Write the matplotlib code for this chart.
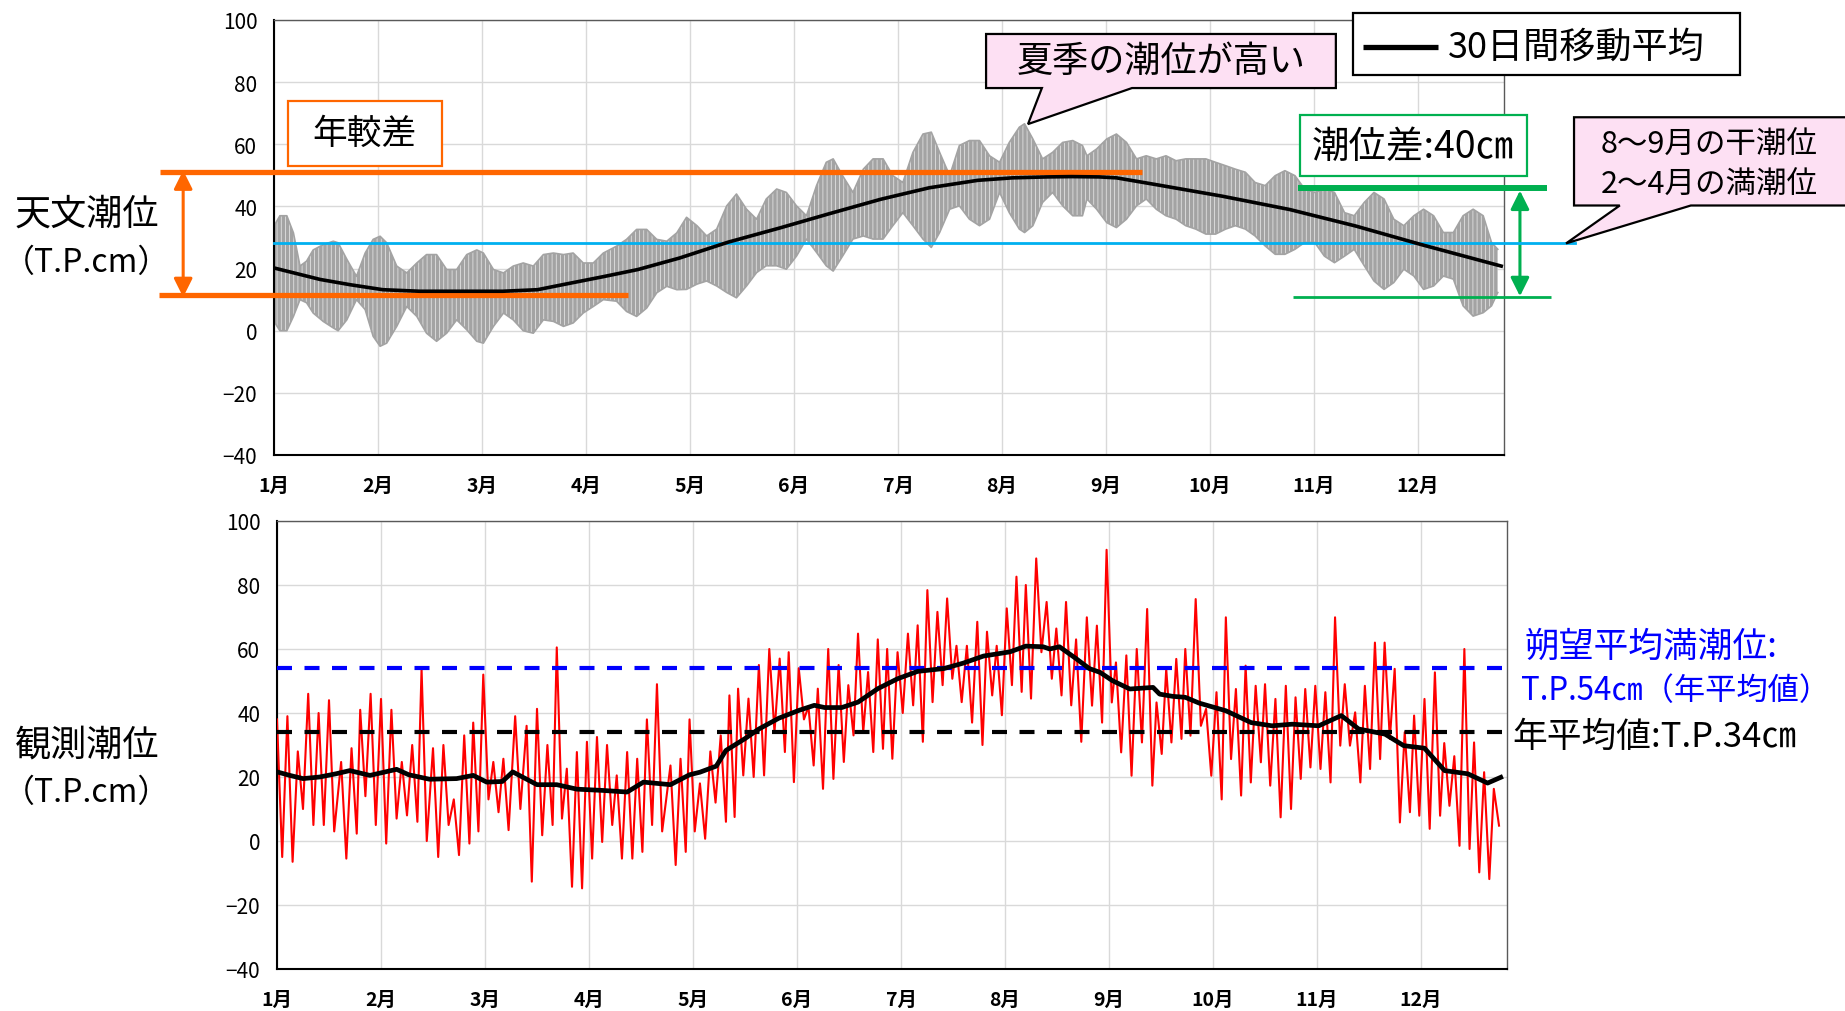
import numpy as np
import matplotlib
matplotlib.use("Agg")
import matplotlib.pyplot as plt
from matplotlib.patches import Rectangle, Polygon

plt.rcParams['font.family'] = ['Noto Sans CJK JP', 'DejaVu Sans']
plt.rcParams['hatch.linewidth'] = 0.5

# ---------------- data ----------------
month_labels = ['1月', '2月', '3月', '4月', '5月', '6月', '7月', '8月', '9月', '10月', '11月', '12月']
month_days = [0, 30, 60, 90, 120, 150, 180, 210, 240, 270, 300, 330]
y_ticks = [-40, -20, 0, 20, 40, 60, 80, 100]
x_end = 354.8

# astronomical tide: envelope (upper / lower) of the hourly curve
gray_day = [0, 1.7, 3.7, 5.6, 7.5, 9.4, 11.3, 14.2, 17.1, 18.5, 21, 23.8, 26.3, 28.6, 30.6, 32.5,
            35.4, 38.3, 41.2, 44, 46.9, 49.8, 52.7, 55.6, 58.5, 60.4, 63.3, 66.2, 69, 71.9, 74.8,
            77.7, 80.6, 83.5, 86.3, 89.2, 92.1, 95, 98.8, 101.7, 104.6, 107.5, 110.4, 113.3, 116.2,
            119, 122, 124.8, 127.7, 130.6, 133.4, 136.3, 139.2, 142, 145, 147.8, 150.7, 153.6,
            156.5, 159.3, 161.3, 164, 167, 170, 172.8, 175.7, 178.5, 181.4, 184.3, 187.2, 189.6,
            192, 194.9, 197.7, 200.6, 203.5, 206.4, 209.3, 212.1, 215, 216.5, 218.9, 221.7, 224.6,
            227.5, 230.4, 233.2, 234.5, 237.3, 240.2, 243, 245.9, 248.8, 251.6, 254.5, 257.3,
            260.2, 263, 265.9, 268.8, 271.6, 274.5, 277.3, 280.2, 283, 285.9, 288.8, 291.6, 294.5,
            297.3, 300.2, 303, 305.9, 308.8, 311.6, 314.5, 317.3, 320.2, 323, 325.9, 328.8, 331.6,
            334.5, 337.3, 340.2, 343, 345.9, 348.8, 351.2, 353]
gray_upper = [33.7, 37, 37, 31.5, 20.8, 22.4, 26, 27.7, 28.8, 28.3, 23, 17.5, 25, 29.4, 30.4, 28.3,
              20.8, 18.6, 21.8, 24.5, 24.5, 19.7, 19.7, 24.5, 26, 25, 19.7, 18.6, 20.8, 21.8, 20.8,
              24.5, 25, 24.5, 25, 21.8, 21.8, 25, 27.2, 29.4, 32.6, 32.6, 29.4, 28.8, 31.5,
              36.5, 33.8, 30.5, 32.7, 40.2, 44, 39.1, 35.9, 42.4, 45.6, 44.5, 40.2, 37,
              46.7, 54.2, 55.3, 49.9, 44.5, 52, 55.3, 55.3, 49.9, 47.7, 57.4, 63.3, 63.9,
              57.4, 49.9, 59.6, 61.2, 61.2, 56.3, 54.2, 60.6, 65.5, 66.6, 61.7, 55.3, 57.4,
              60.6, 61.2, 59.6, 56.3, 58.5, 61.7, 63.3, 60.6, 55.3, 56.3, 55.3, 56.3,
              54.7, 55.3, 55.3, 55.3, 54.2, 53.1, 52, 51, 47.7, 46.7, 49.9, 51.5, 49.9,
              45.6, 44.5, 45.6, 44.5, 38, 37, 41.3, 44.5, 42.4, 35.9, 33.8, 37, 39.1,
              37, 31.6, 31.6, 37, 39.1, 37, 28.4, 26.2]
gray_lower = [3, 0, 0, 4.6, 10, 9, 5.7, 3, 0.9, 0, 3.5, 10, 6.8, -1.8, -5, -4,
              1.4, 7.8, 4.6, -0.8, -3.4, -0.8, 3.5, 0.3, -3.4, -4, 1.4, 5.7, 3.5, 0, -0.8,
              3.5, 3, 1.4, 2.5, 5.7, 7.8, 10, 9.5, 6.2, 4.6, 7.3, 12.2, 14.3, 13.2,
              13.3, 15, 16, 14.4, 12.3, 10.6, 14.4, 18.7, 20.9, 20.9, 19.8, 24, 29.5,
              25.2, 20.9, 19.2, 24, 29.5, 30.5, 29.5, 29.5, 33.8, 38, 33.8, 29.5, 26.8,
              31.6, 39.1, 40.2, 35.9, 33.8, 35.9, 44.5, 38, 32.7, 31.6, 33.8, 41.3, 44.5,
              40.2, 37, 37, 42.4, 39.1, 34.8, 33.2, 35.9, 40.2, 42.4, 39.1, 37,
              35.9, 33.8, 32.7, 31.1, 31.1, 32.7, 33.8, 32.7, 30.5, 27.3, 24.6, 24.6, 26.2,
              28.4, 28.4, 24, 21.9, 24, 26.2, 20.9, 16, 13.3, 15.5, 19.8, 17.6, 13.3,
              14.4, 17.6, 16.6, 8, 4.7, 5.8, 8, 12.3]

# astronomical tide: 30-day moving average
astro_ma_day = [0, 13.3, 22, 31.4, 42, 66, 76, 85, 95, 105, 117, 131, 146, 160, 175, 189, 203,
                213, 223, 230, 238, 243, 254, 273.5, 293, 312, 331, 354]
astro_ma = [20.2, 16.5, 14.8, 13.2, 12.7, 12.7, 13.2, 15.2, 17.4, 19.7, 23.4, 28.5, 33.1, 37.6,
            42.3, 46.0, 48.4, 49.2, 49.5, 49.6, 49.5, 49.2, 47.1, 43.3, 39.0, 33.7, 27.7, 20.8]

# observed tide: highest / lowest value in each ~3-day bin
obs_day = [0, 3, 6, 9, 12, 15, 18.5, 21.5, 24, 27, 30, 33, 36, 39, 41.7, 45, 48, 51, 54, 56.6,
           59.5, 62.4, 65.3, 68.7, 72, 75, 78, 80.7, 83.6, 86.5, 89.4, 92.3, 95.2, 98, 101, 103.9,
           106.7, 109.6, 113.5, 116.4,
           119, 122, 125, 128, 130.5, 133, 136, 139, 142, 145, 147.6, 150.5, 153.3, 156, 159, 162,
           164.8, 167.6, 170.5, 173.3, 176, 179, 182, 184.8, 187.6, 190.5, 193.3, 196, 199, 202,
           204.8, 207.6, 210.5, 213.3, 216, 219, 222, 224.8, 227.6, 230.5,
           233.6, 236.5, 239.3, 242, 245, 248, 251, 253.7, 256.5, 259.4, 262, 265, 268, 271, 273.7,
           276.6, 279.4, 282.3, 285, 288, 291, 293.8, 296.6, 299.5, 302.4, 305.2, 308, 311, 313.8,
           316.7, 319.5, 322.4, 325.3, 328, 331, 334, 336.7, 339.6, 342.5, 345.3, 348.2, 351]
obs_high = [38, 39, 28, 46, 40, 44, 24.7, 29, 41, 46, 44.4, 41, 24.7, 30, 53.8, 29, 30, 13, 33, 37,
            52, 24.7, 25.7, 39, 36, 41.3, 30, 60.5, 22.6, 27.8, 31, 32.5, 30, 20.5, 27.8, 25.7,
            38, 49, 23.6, 25.7,
            38, 18, 28, 33, 45.5, 47.6, 44.5, 55, 60, 57, 59, 54, 42, 47.6, 60, 55,
            48.7, 64.8, 52.8, 63, 60, 59, 64.8, 67.4, 78.4, 71.6, 75.8, 61, 61, 68.5,
            65.4, 61, 72.7, 82.6, 80, 88.3, 74.7, 66.4, 74.7, 63,
            69.9, 67.3, 91, 55.8, 58, 60, 72.5, 43.3, 53.8, 56.9, 60, 75.6, 41.3, 46.5, 69.9,
            47.5, 54.8, 48.5, 49, 44.4, 48.5, 44.9, 47.5, 48.5, 46.5, 69.9, 49, 40.2, 48.5,
            62, 62, 53.8, 34, 39.2, 44.4, 52.7, 30.6, 26.5, 60, 30.8, 21.5, 16.3]
obs_low = [-5, -6.5, 10, 5, 5, 3, -5.5, 2.3, 14, 5, -0.8, 7, 8, 6, 0, -5, 5, -4.4, -0.8, 3,
           13, 9, 3.4, 10, -12.7, 1.8, 5, 7, -14.3, -14.8, -5.5, -0.3, 5, -5.5, -5.5, -3.4,
           5, 3, -7.5, -3.4,
           3, 0.7, 12, 6, 7.5, 20.5, 20, 20.5, 34, 27.8, 18.4, 38, 23.6, 16.3, 19.4, 24.7,
           33, 34, 27.8, 28.8, 25.7, 40, 42.4, 31, 43.4, 48.7, 50.7, 43.4, 37, 30,
           45.5, 39.3, 48.7, 46.6, 44.5, 59, 50.7, 45.5, 42.4, 31,
           42.3, 37, 43.3, 27.7, 20.4, 30.8, 17.3, 27.2, 30.8, 31.9, 32.9, 36, 20.4, 13, 25.6,
           14.2, 18.3, 24.6, 17.3, 7.4, 10, 19.4, 23, 22.5, 18.3, 29.8, 29.8, 18.3, 22.5,
           25.6, 31.9, 5.8, 9, 7.9, 3.8, 7.9, 11, -1.5, -2.5, -9.8, -11.9, 4.8]

# observed tide: 30-day moving average
obs_ma_day = [0, 3.7, 7.5, 12.3, 17, 21, 26.8, 34.5, 38, 44, 51.8, 56.6, 60.5, 65, 68, 75, 80.7,
              86.5, 94, 101, 105.7, 113.5, 119, 122, 126.7, 129.5, 135, 139, 144.8, 150.5, 155,
              158, 162.9, 167.6, 173.3, 179, 184.8, 192.4, 198, 203.8, 211.4, 216, 221, 222.9,
              225.7, 230.5, 234.3, 237.4, 241, 246, 252.7, 254.6, 258.4, 262, 266, 273.7, 281,
              287, 292.8, 300.5, 307, 312, 319.6, 325, 331, 336.8, 343.5, 349.2, 353]
obs_ma = [21.6, 20.5, 19.5, 20, 21, 22, 20.5, 22.4, 20.7, 19.3, 19.5, 20.5, 18.4, 18.6, 21.6, 17.6,
          17.6, 16.2, 15.8, 15.3, 18.4, 17.6, 20.7, 21.5, 23.4, 28.3, 32, 35, 38.4, 40.8, 42.4,
          41.7, 41.7, 43.4, 47.6, 50.7, 53, 53.9, 55.6, 57.8, 59.1, 60.9, 60.7, 60, 60.7, 57,
          53.9, 52.7, 50.1, 47.5, 48, 45.9, 45.2, 44.9, 43.1, 40.7, 37, 36, 36.5, 36, 39.2, 35,
          33.4, 29.8, 29, 22, 21, 18.1, 19.9]

# reference levels (T.P. cm)
annual_high = 51.0      # summer level of astronomical tide
annual_low = 11.4       # winter level
ref_level = 28.3        # Aug-Sep low water / Feb-Apr high water
range_top = 45.9
range_bottom = 10.9
hwl_mean = 54           # 朔望平均満潮位
annual_mean = 34        # 年平均値

# ---------------- figure ----------------
fig = plt.figure(figsize=(18.45, 10.12), dpi=100)
ax1 = fig.add_axes([274 / 1845, 1 - 456 / 1012, 1230 / 1845, 435 / 1012])
ax2 = fig.add_axes([277 / 1845, 1 - 970 / 1012, 1230 / 1845, 448 / 1012])

grid_c = '#D9D9D9'
for ax in (ax1, ax2):
    ax.set_xlim(0, x_end)
    ax.set_ylim(-40, 100)
    ax.set_xticks(month_days)
    ax.set_xticklabels(month_labels, fontsize=14, fontweight='bold')
    ax.set_yticks(y_ticks)
    ax.set_yticklabels([str(v) if v >= 0 else '−' + str(-v) for v in y_ticks], fontsize=15)
    ax.tick_params(axis='both', length=0)
    ax.tick_params(axis='y', pad=12)
    ax.tick_params(axis='x', pad=15)
    ax.grid(True, color=grid_c, lw=1.0)
    ax.set_axisbelow(True)
    for s in ('top', 'right'):
        ax.spines[s].set_color('#595959')
        ax.spines[s].set_linewidth(1.0)
    for s in ('left', 'bottom'):
        ax.spines[s].set_color('black')
        ax.spines[s].set_linewidth(1.5)

# ---- top panel ----
gd = np.array(gray_day)
gray = '#A3A3A3'
ax1.fill(np.r_[gd, gd[::-1]], np.r_[gray_upper, gray_lower[::-1]],
         facecolor=gray, edgecolor='#EDEDED', lw=0, hatch='||||', zorder=2)
ax1.plot(gd, gray_upper, color=gray, lw=1.2, zorder=2)
ax1.plot(gd, gray_lower, color=gray, lw=1.2, zorder=2)
ax1.plot(astro_ma_day, astro_ma, color='black', lw=2.6, zorder=6)

orange = '#FF6600'
ax1.plot([-32.9, 250.4], [annual_high, annual_high], color=orange, lw=3.8, clip_on=False, zorder=5,
         solid_capstyle='butt')
ax1.plot([-33.2, 102.1], [annual_low, annual_low], color=orange, lw=3.8, clip_on=False, zorder=5,
         solid_capstyle='butt')
ax1.annotate('', xy=(-26.2, annual_high + 0.6), xytext=(-26.2, annual_low - 0.6),
             xycoords='data', annotation_clip=False,
             arrowprops=dict(arrowstyle='<|-|>', color=orange, lw=2.2, mutation_scale=28,
                             shrinkA=0, shrinkB=0))
ax1.add_patch(Rectangle((4.0, 52.9), 44.5, 21.0, facecolor='white', edgecolor=orange, lw=1.6,
                        clip_on=False, zorder=7))
ax1.text(26.2, 63.5, '年較差', fontsize=25, ha='center', va='center', zorder=8)

cyan = '#00B0F0'
ax1.plot([0, 375.3], [ref_level, ref_level], color=cyan, lw=2.0, clip_on=False, zorder=4)

# callout: summer high
pink = '#FDE0F3'
ax1.add_patch(Polygon([(205.4, 95.5), (306.3, 95.5), (306.3, 78.1), (247.5, 78.1),
                       (217.5, 66.5), (221.5, 78.1), (205.4, 78.1)],
                      closed=True, facecolor=pink, edgecolor='black', lw=1.6,
                      clip_on=False, zorder=9))
ax1.text(255.8, 86.9, '夏季の潮位が高い', fontsize=26, ha='center', va='center', zorder=10)

# legend box
ax1.add_patch(Rectangle((311.2, 82.3), 111.6, 20.0, facecolor='white', edgecolor='black', lw=1.6,
                        clip_on=False, zorder=9))
ax1.plot([314.1, 335.7], [91.4, 91.4], color='black', lw=3.8, clip_on=False, zorder=10,
         solid_capstyle='butt')
ax1.text(338.6, 91.4, '30日間移動平均', fontsize=26, ha='left', va='center', zorder=10)

# tidal range (green)
green = '#00B050'
ax1.add_patch(Rectangle((295.9, 49.7), 65.5, 19.7, facecolor='white', edgecolor=green, lw=1.6,
                        clip_on=False, zorder=9))
ax1.text(328.6, 59.4, '潮位差:40㎝', fontsize=27, ha='center', va='center', zorder=10)
ax1.plot([295.4, 367.2], [range_top, range_top], color=green, lw=4.3, clip_on=False, zorder=5,
         solid_capstyle='butt')
ax1.plot([293.9, 368.3], [range_bottom, range_bottom], color=green, lw=2.0, clip_on=False, zorder=5,
         solid_capstyle='butt')
ax1.annotate('', xy=(359.4, range_top - 0.8), xytext=(359.4, range_bottom + 0.2),
             xycoords='data', annotation_clip=False,
             arrowprops=dict(arrowstyle='<|-|>', color=green, lw=2.2, mutation_scale=28,
                             shrinkA=0, shrinkB=0))

# callout: Aug-Sep low / Feb-Apr high
ax1.add_patch(Polygon([(375.0, 68.7), (454.5, 68.7), (454.5, 40.3), (408.7, 40.3),
                       (372.7, 28.1), (388.2, 40.3), (375.0, 40.3)],
                      closed=True, facecolor=pink, edgecolor='black', lw=1.6,
                      clip_on=False, zorder=9))
ax1.text(414.0, 60.0, '8〜9月の干潮位', fontsize=22, ha='center', va='center', zorder=10)
ax1.text(414.0, 47.2, '2〜4月の満潮位', fontsize=22, ha='center', va='center', zorder=10)

fig.text(87 / 1845, 1 - 215 / 1012, '天文潮位', fontsize=26, ha='center', va='center')
fig.text(87 / 1845, 1 - 263 / 1012, '（T.P.cm）', fontsize=23, ha='center', va='center')

# ---- bottom panel ----
od = np.array(obs_day)
zz_x = np.ravel(np.column_stack([od, od + 1.5]))
zz_y = np.ravel(np.column_stack([obs_high, obs_low]))
ax2.plot(zz_x, zz_y, color='#FF0000', lw=1.5, zorder=3)
ax2.plot([0, x_end], [hwl_mean, hwl_mean], color='#0000FF', lw=3.0, ls=(0, (3.6, 3.0)), zorder=4)
ax2.plot([0, x_end], [annual_mean, annual_mean], color='black', lw=3.0, ls=(0, (3.6, 3.0)), zorder=4)
ax2.plot(obs_ma_day, obs_ma, color='black', lw=3.4, zorder=5)

fig.text(1525 / 1845, 1 - 647 / 1012, '朔望平均満潮位:', fontsize=25, color='#0000FF',
         ha='left', va='center')
fig.text(1521 / 1845, 1 - 691 / 1012, 'T.P.54㎝（年平均値）', fontsize=22.5, color='#0000FF',
         ha='left', va='center')
fig.text(1512 / 1845, 1 - 737 / 1012, '年平均値:T.P.34㎝', fontsize=25, color='black',
         ha='left', va='center')

fig.text(87 / 1845, 1 - 745 / 1012, '観測潮位', fontsize=26, ha='center', va='center')
fig.text(87 / 1845, 1 - 793 / 1012, '（T.P.cm）', fontsize=23, ha='center', va='center')

fig.savefig('out.png', dpi=100)
